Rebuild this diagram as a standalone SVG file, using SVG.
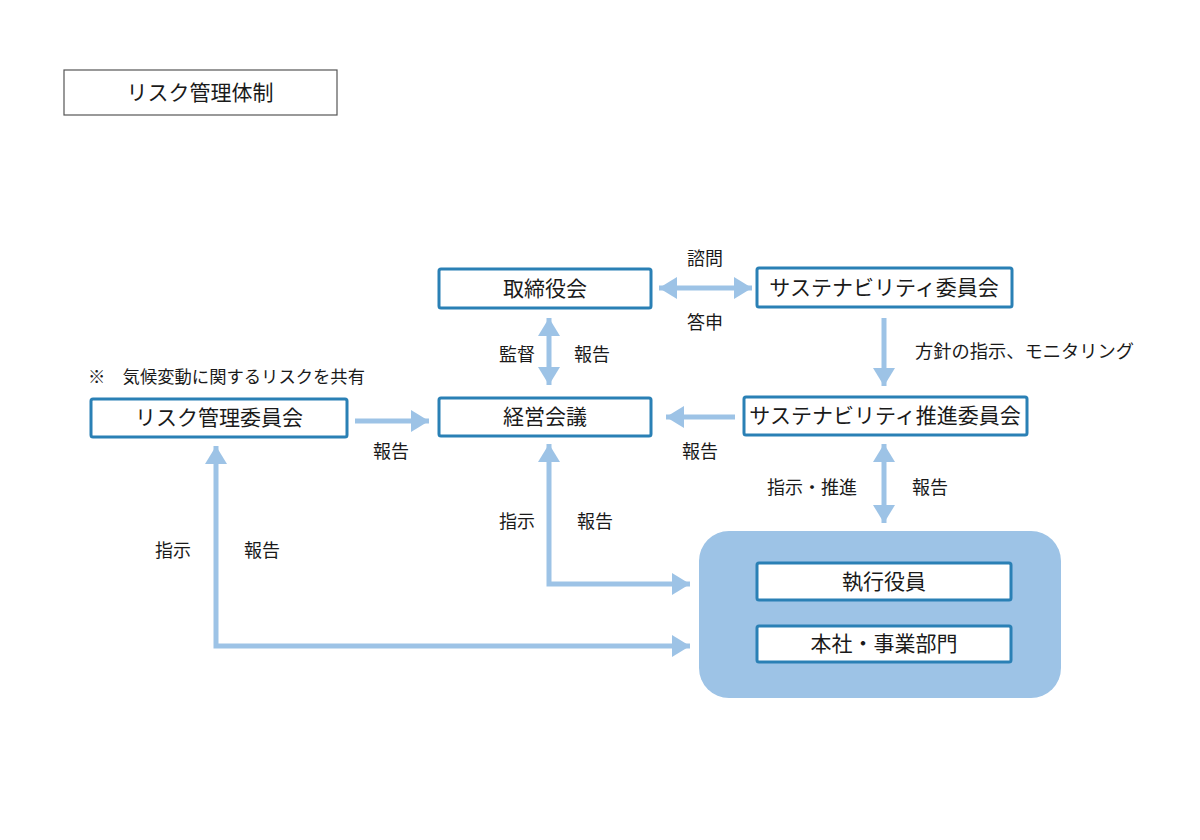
<svg xmlns="http://www.w3.org/2000/svg" width="1200" height="840" viewBox="0 0 1200 840">
<defs>
<style>
.t{font-family:"Noto Sans CJK JP","Noto Sans",sans-serif;fill:#1a1a1a}
.box{fill:#fff;stroke:#2a80b5;stroke-width:3}
.nt{font-size:21px;text-anchor:middle}
.lb{font-size:18px;text-anchor:middle}
.ar{fill:none;stroke:#9dc3e6;stroke-width:5;stroke-linejoin:miter}
</style>
<marker id="ah" markerUnits="userSpaceOnUse" markerWidth="20" markerHeight="22" refX="18" refY="11" orient="auto-start-reverse" viewBox="0 0 20 22">
<path d="M0,0 L18,11 L0,22 z" fill="#9dc3e6"/>
</marker>
</defs>
<rect width="1200" height="840" fill="#fff"/>
<g id="title">
<rect x="64" y="70" width="273" height="45" fill="#fff" stroke="#555" stroke-width="1.2"/>
<text class="t nt" x="200" y="100">リスク管理体制</text>
</g>
<g id="exec-group">
<rect x="699" y="531" width="362" height="167" rx="30" fill="#9dc3e6"/>
</g>
<g id="connectors">
<line class="ar" x1="659" y1="288" x2="752" y2="288" marker-start="url(#ah)" marker-end="url(#ah)"/>
<line class="ar" x1="549" y1="318" x2="549" y2="385" marker-start="url(#ah)" marker-end="url(#ah)"/>
<line class="ar" x1="884" y1="318" x2="884" y2="386" marker-end="url(#ah)"/>
<line class="ar" x1="735" y1="417" x2="666" y2="417" marker-end="url(#ah)"/>
<line class="ar" x1="355" y1="421" x2="429" y2="421" marker-end="url(#ah)"/>
<line class="ar" x1="884" y1="444" x2="884" y2="523" marker-start="url(#ah)" marker-end="url(#ah)"/>
<path class="ar" d="M549,444 L549,584 L690,584" marker-start="url(#ah)" marker-end="url(#ah)"/>
<path class="ar" d="M216,446 L216,646 L690,646" marker-start="url(#ah)" marker-end="url(#ah)"/>
</g>
<g id="labels">
<text class="t lb" x="705" y="265">諮問</text>
<text class="t lb" x="705" y="329">答申</text>
<text class="t lb" x="517" y="361">監督</text>
<text class="t lb" x="592" y="361">報告</text>
<text class="t" x="915" y="358" font-size="18" textLength="219" lengthAdjust="spacingAndGlyphs">方針の指示、モニタリング</text>
<text class="t lb" x="700" y="458">報告</text>
<text class="t lb" x="391" y="458">報告</text>
<text class="t" x="767" y="494" font-size="18" textLength="90" lengthAdjust="spacingAndGlyphs">指示・推進</text>
<text class="t lb" x="930" y="494">報告</text>
<text class="t lb" x="517" y="528">指示</text>
<text class="t lb" x="595" y="528">報告</text>
<text class="t lb" x="173" y="557">指示</text>
<text class="t lb" x="262" y="557">報告</text>
<text class="t" x="88" y="383" font-size="17" textLength="277" lengthAdjust="spacingAndGlyphs">※　気候変動に関するリスクを共有</text>
</g>
<g id="n-board">
<rect class="box" x="439" y="269" width="212" height="39" rx="2"/>
<text class="t nt" x="545" y="296">取締役会</text>
</g>
<g id="n-sus">
<rect class="box" x="757" y="268" width="255" height="39" rx="2"/>
<text class="t nt" x="884" y="295">サステナビリティ委員会</text>
</g>
<g id="n-mgmt">
<rect class="box" x="439" y="398" width="212" height="38" rx="2"/>
<text class="t nt" x="545" y="424">経営会議</text>
</g>
<g id="n-suspro">
<rect class="box" x="744" y="397" width="283" height="38" rx="2"/>
<text class="t nt" x="885" y="423">サステナビリティ推進委員会</text>
</g>
<g id="n-risk">
<rect class="box" x="91" y="399" width="256" height="38" rx="2"/>
<text class="t nt" x="219" y="425">リスク管理委員会</text>
</g>
<g id="n-exec">
<rect class="box" x="757" y="563" width="254" height="37" rx="2"/>
<text class="t nt" x="884" y="589">執行役員</text>
</g>
<g id="n-hq">
<rect class="box" x="757" y="626" width="254" height="36" rx="2"/>
<text class="t nt" x="884" y="651">本社・事業部門</text>
</g>
</svg>
